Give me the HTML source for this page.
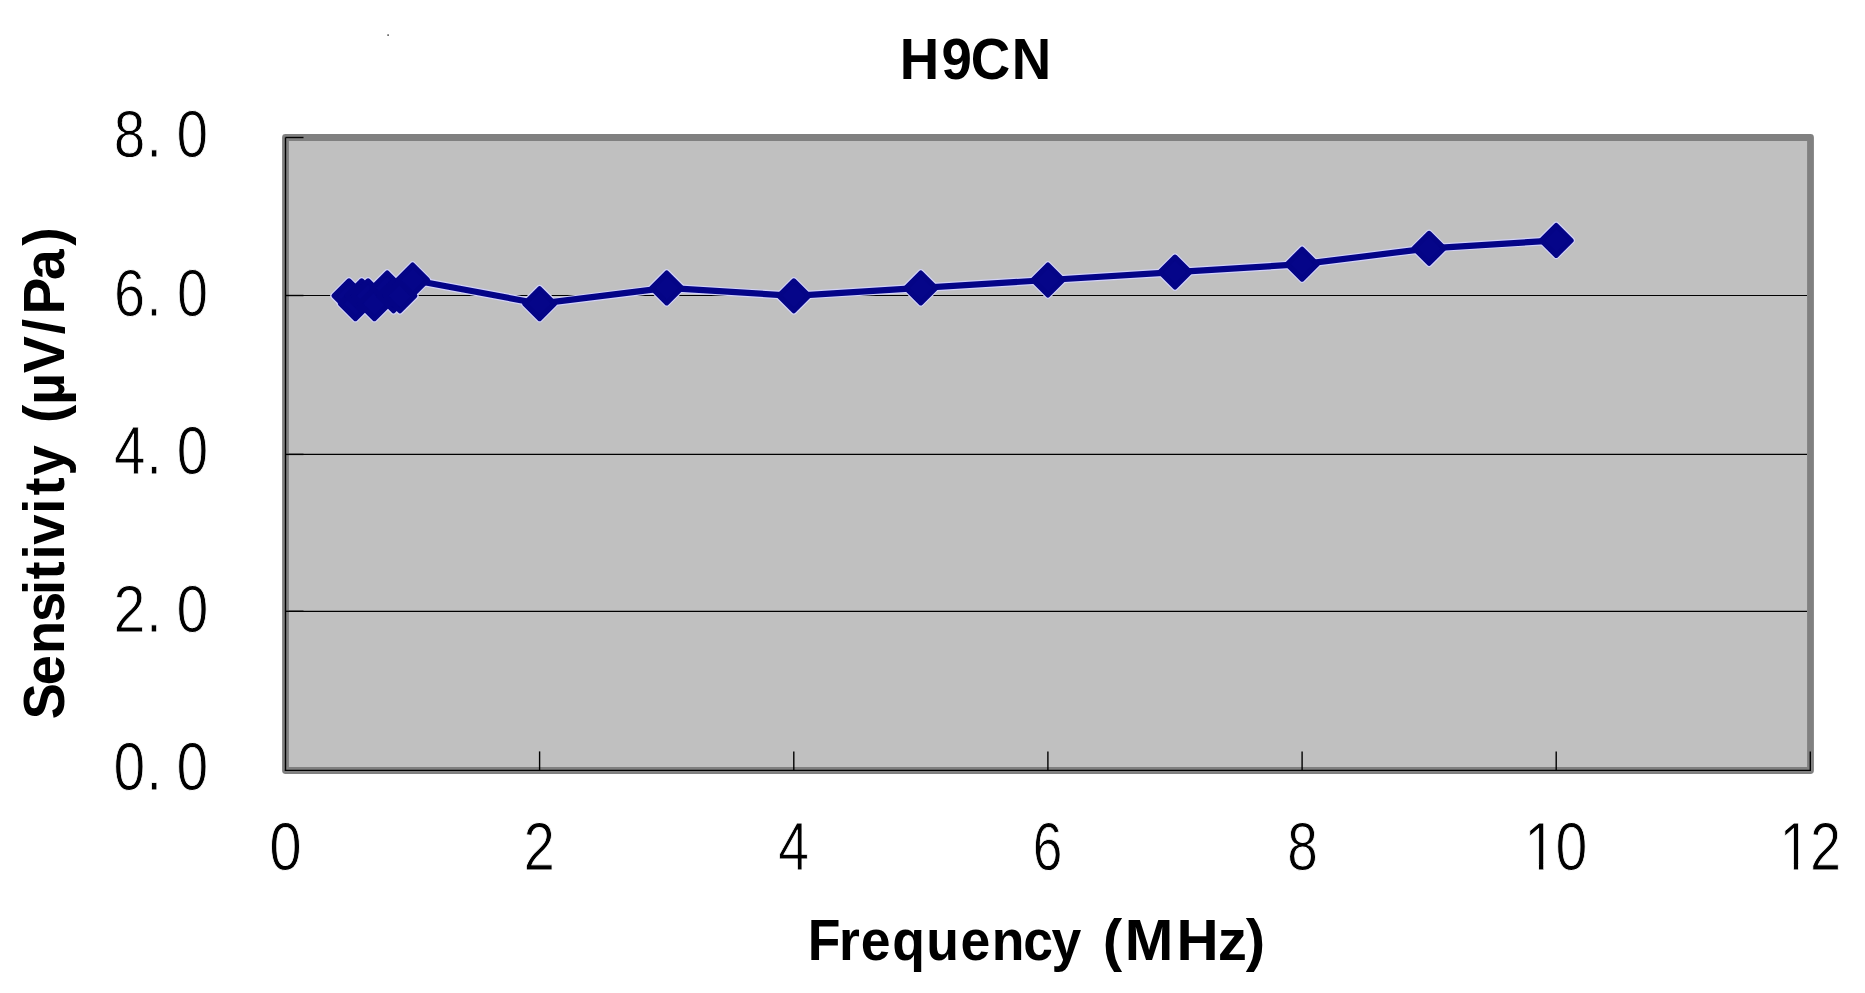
<!DOCTYPE html>
<html><head><meta charset="utf-8"><title>H9CN</title><style>
html,body{margin:0;padding:0;background:#fff;width:1865px;height:993px;overflow:hidden}
svg{display:block}
text{font-kerning:none}
.num{font-family:"Liberation Sans",sans-serif;fill:#000;stroke:#fff;stroke-width:0.9px}
.ttl{font-family:"Liberation Sans",sans-serif;font-weight:bold;fill:#000}
</style></head><body>
<svg width="1865" height="993" viewBox="0 0 1865 993">
<defs><clipPath id="c0" clipPathUnits="userSpaceOnUse"><rect x="1509.80" y="802.45" width="95.60" height="61.16"/><rect x="1538.95" y="858.81" width="4.31" height="17.08"/><rect x="1555.70" y="802.45" width="49.70" height="88.10"/></clipPath><clipPath id="c236" clipPathUnits="userSpaceOnUse"><rect x="1764.80" y="802.45" width="93.40" height="61.16"/><rect x="1793.89" y="858.81" width="4.20" height="17.08"/><rect x="1810.80" y="802.45" width="47.40" height="88.10"/></clipPath></defs>
<rect x="0" y="0" width="1865" height="993" fill="#fff"/>
<rect x="387.4" y="34.4" width="1.4" height="1.4" fill="#222"/>
<rect x="285.5" y="137.5" width="1525" height="633" fill="#c0c0c0"/>
<g stroke="#000" stroke-width="1.2"><line x1="289" x2="1807" y1="611.3" y2="611.3"/><line x1="289" x2="1807" y1="454.4" y2="454.4"/><line x1="289" x2="1807" y1="295.5" y2="295.5"/></g>
<rect x="285.5" y="137.5" width="1525" height="633" fill="none" stroke="#808080" stroke-width="6.8" stroke-linejoin="round"/>
<g stroke="#000" stroke-width="1.4">
<line x1="285.5" x2="285.5" y1="137.5" y2="770.4"/>
<line x1="284.8" x2="1811.0" y1="770.4" y2="770.4"/>
<line x1="539.6" x2="539.6" y1="751.4" y2="770.4"/><line x1="793.8" x2="793.8" y1="751.4" y2="770.4"/><line x1="1047.9" x2="1047.9" y1="751.4" y2="770.4"/><line x1="1302.1" x2="1302.1" y1="751.4" y2="770.4"/><line x1="1556.2" x2="1556.2" y1="751.4" y2="770.4"/><line x1="1810.3" x2="1810.3" y1="751.4" y2="770.4"/><line x1="285.5" x2="303.5" y1="611.3" y2="611.3"/><line x1="285.5" x2="303.5" y1="454.4" y2="454.4"/><line x1="285.5" x2="303.5" y1="295.5" y2="295.5"/><line x1="285.5" x2="303.5" y1="137.5" y2="137.5"/>
</g>
<g fill="none" stroke="#d2d2f8" stroke-linejoin="round">
<polyline points="349.0,295.8 355.4,303.7 361.7,295.8 368.1,295.8 374.4,303.7 387.2,287.9 393.5,295.8 399.9,295.8 412.6,280.0 539.6,303.7 666.7,287.9 793.8,295.8 920.8,287.9 1047.9,280.0 1175.0,272.1 1302.1,264.2 1429.1,248.3 1556.2,240.4" stroke-width="8.6"/>
<g fill="#d2d2f8" stroke-width="7.4"><polygon points="349.0,280.8 364.0,295.8 349.0,310.8 334.0,295.8"/><polygon points="355.4,288.7 370.4,303.7 355.4,318.7 340.4,303.7"/><polygon points="361.7,280.8 376.7,295.8 361.7,310.8 346.7,295.8"/><polygon points="368.1,280.8 383.1,295.8 368.1,310.8 353.1,295.8"/><polygon points="374.4,288.7 389.4,303.7 374.4,318.7 359.4,303.7"/><polygon points="387.2,272.9 402.2,287.9 387.2,302.9 372.2,287.9"/><polygon points="393.5,280.8 408.5,295.8 393.5,310.8 378.5,295.8"/><polygon points="399.9,280.8 414.9,295.8 399.9,310.8 384.9,295.8"/><polygon points="412.6,265.0 427.6,280.0 412.6,295.0 397.6,280.0"/><polygon points="539.6,288.7 554.6,303.7 539.6,318.7 524.6,303.7"/><polygon points="666.7,272.9 681.7,287.9 666.7,302.9 651.7,287.9"/><polygon points="793.8,280.8 808.8,295.8 793.8,310.8 778.8,295.8"/><polygon points="920.8,272.9 935.8,287.9 920.8,302.9 905.8,287.9"/><polygon points="1047.9,265.0 1062.9,280.0 1047.9,295.0 1032.9,280.0"/><polygon points="1175.0,257.1 1190.0,272.1 1175.0,287.1 1160.0,272.1"/><polygon points="1302.1,249.2 1317.1,264.2 1302.1,279.2 1287.1,264.2"/><polygon points="1429.1,233.3 1444.1,248.3 1429.1,263.3 1414.1,248.3"/><polygon points="1556.2,225.4 1571.2,240.4 1556.2,255.4 1541.2,240.4"/></g>
</g>
<polyline points="349.0,295.8 355.4,303.7 361.7,295.8 368.1,295.8 374.4,303.7 387.2,287.9 393.5,295.8 399.9,295.8 412.6,280.0 539.6,303.7 666.7,287.9 793.8,295.8 920.8,287.9 1047.9,280.0 1175.0,272.1 1302.1,264.2 1429.1,248.3 1556.2,240.4" fill="none" stroke="#040488" stroke-width="6.2" stroke-linejoin="round"/>
<g fill="#050589" stroke="#040486" stroke-width="5" stroke-linejoin="round"><polygon points="349.0,280.8 364.0,295.8 349.0,310.8 334.0,295.8"/><polygon points="355.4,288.7 370.4,303.7 355.4,318.7 340.4,303.7"/><polygon points="361.7,280.8 376.7,295.8 361.7,310.8 346.7,295.8"/><polygon points="368.1,280.8 383.1,295.8 368.1,310.8 353.1,295.8"/><polygon points="374.4,288.7 389.4,303.7 374.4,318.7 359.4,303.7"/><polygon points="387.2,272.9 402.2,287.9 387.2,302.9 372.2,287.9"/><polygon points="393.5,280.8 408.5,295.8 393.5,310.8 378.5,295.8"/><polygon points="399.9,280.8 414.9,295.8 399.9,310.8 384.9,295.8"/><polygon points="412.6,265.0 427.6,280.0 412.6,295.0 397.6,280.0"/><polygon points="539.6,288.7 554.6,303.7 539.6,318.7 524.6,303.7"/><polygon points="666.7,272.9 681.7,287.9 666.7,302.9 651.7,287.9"/><polygon points="793.8,280.8 808.8,295.8 793.8,310.8 778.8,295.8"/><polygon points="920.8,272.9 935.8,287.9 920.8,302.9 905.8,287.9"/><polygon points="1047.9,265.0 1062.9,280.0 1047.9,295.0 1032.9,280.0"/><polygon points="1175.0,257.1 1190.0,272.1 1175.0,287.1 1160.0,272.1"/><polygon points="1302.1,249.2 1317.1,264.2 1302.1,279.2 1287.1,264.2"/><polygon points="1429.1,233.3 1444.1,248.3 1429.1,263.3 1414.1,248.3"/><polygon points="1556.2,225.4 1571.2,240.4 1556.2,255.4 1541.2,240.4"/></g>
<g class="num"><text transform="translate(0,156.89) scale(0.8412,1)" x="135.28 173.74 209.94" y="0" font-size="67.51">8.0</text><text transform="translate(0,315.89) scale(0.8262,1)" x="137.86 177.09 214.11" y="0" font-size="67.51">6.0</text><text transform="translate(0,474.09) scale(0.8320,1)" x="136.92 175.73 212.37" y="0" font-size="67.94">4.0</text><text transform="translate(0,631.89) scale(0.8488,1)" x="133.74 172.11 207.90" y="0" font-size="67.51">2.0</text><text transform="translate(0,789.79) scale(0.8426,1)" x="134.58 173.43 209.53" y="0" font-size="67.65">0.0</text><text transform="translate(0,869.89) scale(0.8591,1)" x="313.49" y="0" font-size="67.94">0</text><text transform="translate(0,869.89) scale(0.8304,1)" x="630.51" y="0" font-size="67.94">2</text><text transform="translate(0,869.89) scale(0.8121,1)" x="958.47" y="0" font-size="67.94">4</text><text transform="translate(0,869.89) scale(0.7847,1)" x="1316.09" y="0" font-size="67.94">6</text><text transform="translate(0,869.89) scale(0.8093,1)" x="1590.49" y="0" font-size="67.94">8</text><g clip-path="url(#c0)"><text transform="translate(0,869.89) scale(0.8444,1)" x="1805.00 1842.25" y="0" font-size="67.94">10</text></g><g clip-path="url(#c236)"><text transform="translate(0,869.89) scale(0.8231,1)" x="2161.88 2198.92" y="0" font-size="67.94">12</text></g></g>
<g class="ttl"><text transform="translate(0,78.90) scale(0.9395,1)" x="957.81 1002.12 1033.34 1077.01" y="0" font-size="58.14">H9CN</text><text transform="translate(0,960.00) scale(0.9213,1)" x="876.88 910.79 934.41 968.50 1005.41 1042.62 1076.39 1110.75 1141.41" y="0" font-size="58.14">Frequency</text><text transform="translate(0,960.00) scale(1.0031,1)" x="1099.38 1121.26 1172.89 1213.97 1241.99" y="0" font-size="58.14">(MHz)</text><text transform="translate(63.80,740.00) rotate(-90) scale(0.9306,1)" x="22.34 58.87 92.44 126.71 155.80 172.53 193.89 209.72 243.15 262.69 284.16" y="0" font-size="58.29">Sensitivity</text><text transform="translate(63.80,740.00) rotate(-90) scale(0.9475,1)" x="334.69 353.94 387.39 428.17 449.07 485.47 521.66" y="0" font-size="58.29">(µV/Pa)</text></g>
</svg>
</body></html>
